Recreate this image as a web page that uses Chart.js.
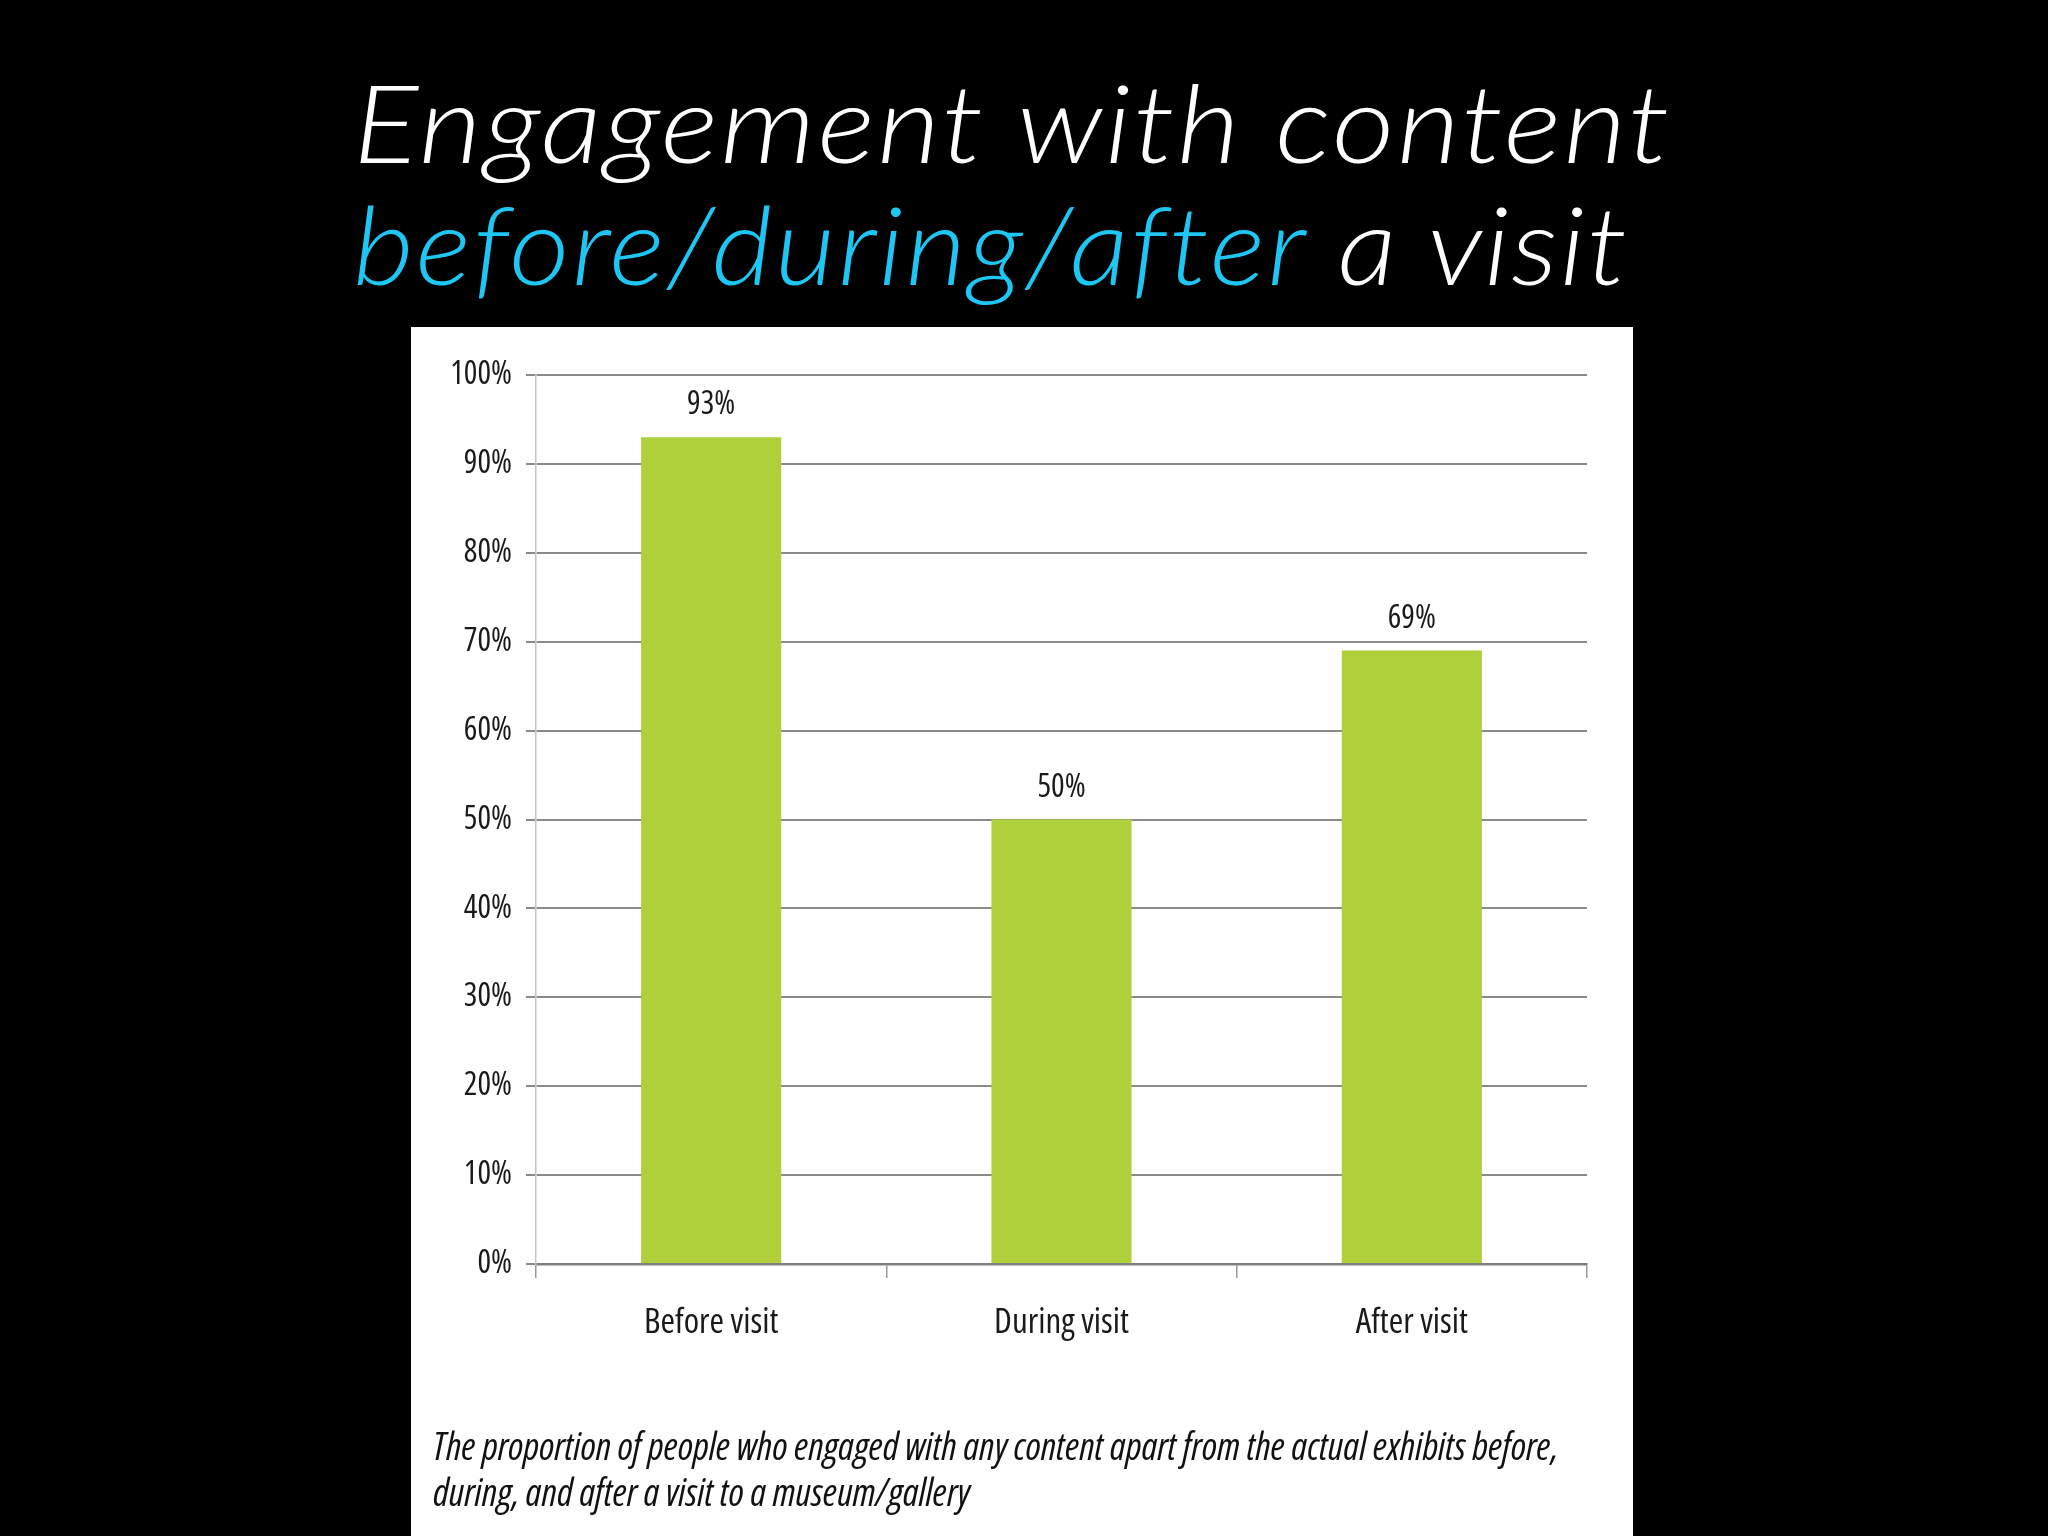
<!DOCTYPE html>
<html>
<head>
<meta charset="utf-8">
<title>Engagement with content before/during/after a visit</title>
<script src="https://cdn.jsdelivr.net/npm/chart.js@4.4.1/dist/chart.umd.min.js"></script>
<style>
  html, body { margin: 0; padding: 0; background: #000; }
  body { width: 2048px; height: 1536px; position: relative; overflow: hidden; }
  .title {
    position: absolute; left: 353px; margin: 0;
    font-family: 'Lato', 'Open Sans', sans-serif; font-weight: 300; font-style: italic;
    font-size: 108px; line-height: 108px; color: #fff; white-space: nowrap;
    letter-spacing: 2px; transform-origin: 0 0;
  }
  /* Century Gothic is wider than Lato, so stretch the lines a little */
  #title1 { top: 67px; transform: scaleX(1.13); }
  #title2 { top: 189px; transform: scaleX(1.09); }
  .cyan { color: #1ec6f3; }
  #panel {
    position: absolute; left: 411px; top: 327px; width: 1222px; height: 1209px;
    background: #fff;
  }
  #caption {
    position: absolute; left: 22px; top: 1095px; margin: 0;
    font-family: 'Open Sans', sans-serif; font-stretch: condensed; font-style: italic;
    font-size: 38px; line-height: 46px; color: #111; white-space: nowrap;
  }
</style>
</head>
<body>
<div class="title" id="title1">Engagement with content</div>
<div class="title" id="title2"><span class="cyan">before/during/after</span> a visit</div>
<div id="panel">
  <canvas id="engagementChart" width="1222" height="1209"></canvas>
  <p id="caption">The proportion of people who engaged with any content apart from the actual exhibits before,<br>during, and after a visit to a museum/gallery</p>
</div>
<script>
// chart data
const categories = ['Before visit', 'During visit', 'After visit'];
const engagedPct = [93, 50, 69];
const yTicks = [0, 10, 20, 30, 40, 50, 60, 70, 80, 90, 100];

// Open Sans is variable, so "condensed" gets a Calibri-like narrow face
const chartFont = "'Open Sans', sans-serif";
const narrow = '400 condensed';

// draws the "93%" style labels above each bar
const valueLabels = {
    id: 'valueLabels',
    afterDatasetsDraw: function (chart) {
        const ctx = chart.ctx;
        const meta = chart.getDatasetMeta(0);
        ctx.save();
        ctx.font = 'condensed 32px ' + chartFont;
        ctx.fillStyle = '#1a1a1a';
        ctx.textAlign = 'center';
        ctx.textBaseline = 'alphabetic';
        meta.data.forEach(function (bar, i) {
            ctx.fillText(engagedPct[i] + '%', bar.x, bar.y - 23);
        });
        ctx.restore();
    }
};

const ctx = document.getElementById('engagementChart').getContext('2d');
new Chart(ctx, {
    type: 'bar',
    data: {
        labels: categories,
        datasets: [{
            label: 'Engaged with content',
            data: engagedPct,
            backgroundColor: '#afcf3b',
            borderWidth: 0,
            barPercentage: 0.4,
            categoryPercentage: 1.0
        }]
    },
    options: {
        responsive: false,
        devicePixelRatio: 1,
        animation: false,
        layout: { padding: { top: 48, right: 46, bottom: 0, left: 0 } },
        plugins: {
            legend: { display: false },
            tooltip: { enabled: false }
        },
        scales: {
            x: {
                afterFit: function (scale) { scale.height = 272; },
                grid: {
                    offset: true,
                    drawOnChartArea: false,
                    drawTicks: true,
                    tickLength: 14,
                    color: '#9a9a9a',
                    lineWidth: 1.5
                },
                border: { color: '#7f7f7f', width: 2.5 },
                ticks: {
                    color: '#1a1a1a',
                    padding: 24,
                    font: { family: chartFont, size: 35, weight: narrow }
                }
            },
            y: {
                min: 0,
                max: 100,
                afterFit: function (scale) { scale.width = 125; },
                afterBuildTicks: function (scale) {
                    scale.ticks = yTicks.map(function (v) { return { value: v }; });
                },
                grid: {
                    color: '#8a8a8a',
                    lineWidth: 2,
                    tickLength: 10
                },
                border: { color: '#c4c4c4', width: 1.5 },
                ticks: {
                    color: '#1a1a1a',
                    padding: 14,
                    font: { family: chartFont, size: 32, weight: narrow },
                    callback: function (v) { return v + '%'; }
                }
            }
        }
    },
    plugins: [valueLabels]
});
</script>
</body>
</html>
